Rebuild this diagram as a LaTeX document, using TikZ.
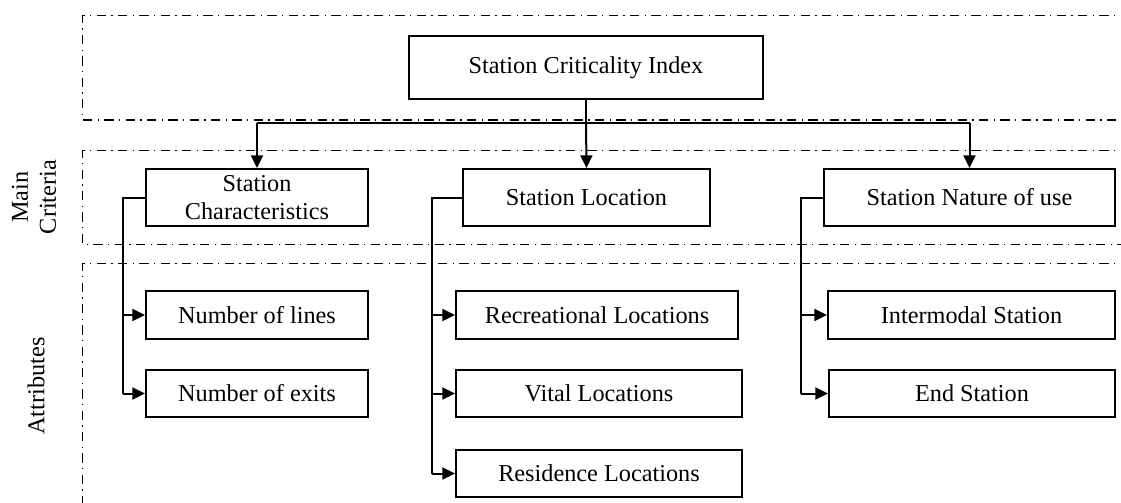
\documentclass[tikz,border=0pt]{standalone}
\usepackage{fontspec}
\setmainfont{Liberation Serif}
\usetikzlibrary{arrows.meta}
\newcommand\diafont{\fontsize{18.2}{21}\selectfont}
\begin{document}
\begin{tikzpicture}[x=0.75pt,y=-0.75pt,
  box/.style={draw, line width=1.5pt, inner sep=0pt, align=center, font=\diafont},
  conn/.style={line width=1.5pt},
  arr/.style={line width=1.5pt, -{Triangle[length=9.5pt,width=9pt]}},
  region/.style={line width=0.8pt, dash pattern=on 7pt off 4pt on 1pt off 4pt},
  side/.style={rotate=90, align=center, font=\diafont}]
\useasboundingbox (0,0) rectangle (1121,503);
\begin{scope}
\clip (0,0) rectangle (1121,503);
% regions
\draw[region] (1130,15.7) -- (82.7,15.7) -- (82.7,120) -- (1130,120);
\draw[region] (1130,150.3) -- (82.7,150.3) -- (82.7,244.3) -- (1130,244.3);
\draw[region] (1130,263.3) -- (82.7,263.3) -- (82.7,510);
\end{scope}
% side labels
\node[side] (lmain) at (34,197) {Main\\Criteria};
\node[side] (lattr) at (36,386) {Attributes};
% boxes
\node[box, minimum width=354*0.75pt, minimum height=63*0.75pt] (sci) at (586,67.5) {Station Criticality Index};
\node[box, minimum width=222*0.75pt, minimum height=57*0.75pt] (sc) at (257,197.5) {Station\\Characteristics};
\node[box, minimum width=247*0.75pt, minimum height=57*0.75pt] (sl) at (586.5,197.5) {Station Location};
\node[box, minimum width=291*0.75pt, minimum height=57*0.75pt] (sn) at (969.5,197.5) {Station Nature of use};
\node[box, minimum width=222*0.75pt, minimum height=47.5*0.75pt] (nl) at (257,315) {Number of lines};
\node[box, minimum width=222*0.75pt, minimum height=47.5*0.75pt] (ne) at (257,393.5) {Number of exits};
\node[box, minimum width=282*0.75pt, minimum height=47.5*0.75pt] (rl) at (597,315) {Recreational Locations};
\node[box, minimum width=286*0.75pt, minimum height=47.5*0.75pt] (vl) at (599,393.5) {Vital Locations};
\node[box, minimum width=286*0.75pt, minimum height=47.5*0.75pt] (resl) at (599,473.5) {Residence Locations};
\node[box, minimum width=287*0.75pt, minimum height=47.5*0.75pt] (is) at (971.5,315) {Intermodal Station};
\node[box, minimum width=286*0.75pt, minimum height=47.5*0.75pt] (es) at (972,393.5) {End Station};
% coordinates
\coordinate (bus) at (586,122.7);
\coordinate (busl) at (257,122.7);
\coordinate (busr) at (969.5,122.7);
% top bus
\draw[conn] (sci.south) -- (bus);
\draw[arr] (busl) -- (sc.north);
\draw[arr] (bus) -- (sl.north);
\draw[arr] (busr) -- (sn.north);
\draw[conn] (busl) -- (busr);
% SC branch
\coordinate (sct) at (122.7,197.5);
\draw[conn] (sc.west) -- (sct) -- (sct |- ne.west);
\draw[arr] (sct |- nl.west) -- (nl.west);
\draw[arr] (sct |- ne.west) -- (ne.west);
% SL branch
\coordinate (slt) at (431.7,197.5);
\draw[conn] (sl.west) -- (slt) -- (slt |- resl.west);
\draw[arr] (slt |- rl.west) -- (rl.west);
\draw[arr] (slt |- vl.west) -- (vl.west);
\draw[arr] (slt |- resl.west) -- (resl.west);
% SN branch
\coordinate (snt) at (801,197.5);
\draw[conn] (sn.west) -- (snt) -- (snt |- es.west);
\draw[arr] (snt |- is.west) -- (is.west);
\draw[arr] (snt |- es.west) -- (es.west);
\end{tikzpicture}
\end{document}
